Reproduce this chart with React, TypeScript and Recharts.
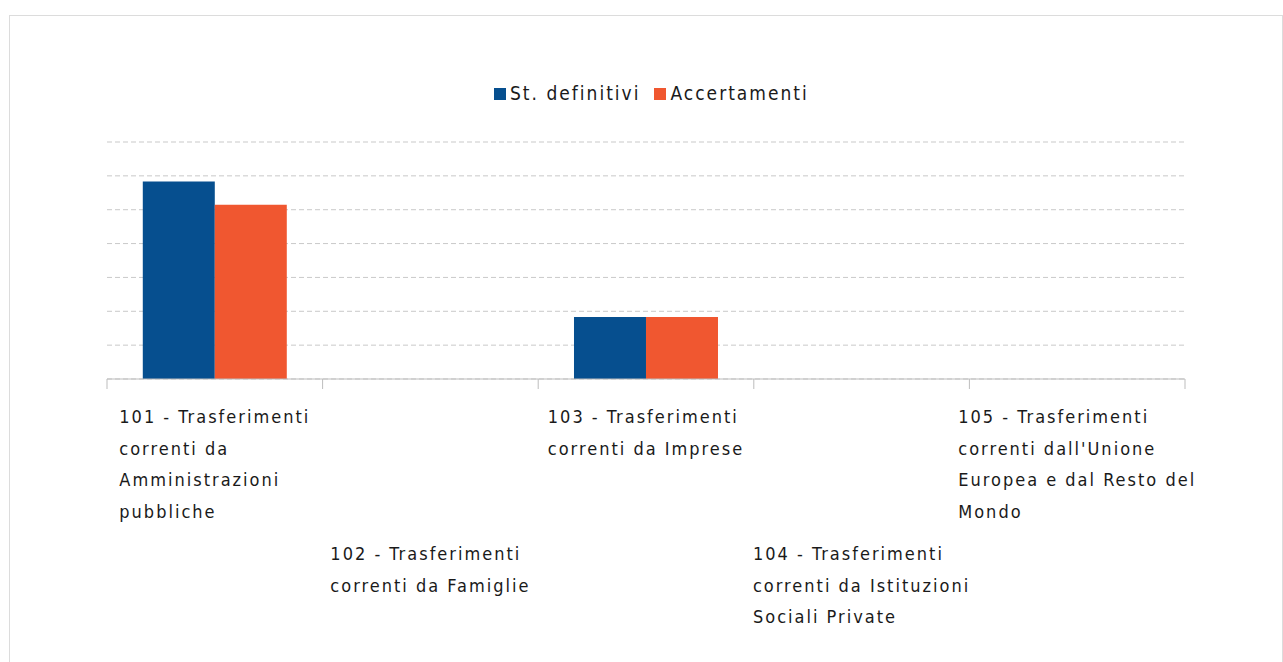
import React from 'react';
import { BarChart, Bar, XAxis, YAxis, CartesianGrid } from 'recharts';

const categories = [
  '101 - Trasferimenti correnti da Amministrazioni pubbliche',
  '102 - Trasferimenti correnti da Famiglie',
  '103 - Trasferimenti correnti da Imprese',
  '104 - Trasferimenti correnti da Istituzioni Sociali Private',
  "105 - Trasferimenti correnti dall'Unione Europea e dal Resto del Mondo",
];
const labelLines = [
  ['101 - Trasferimenti', 'correnti da', 'Amministrazioni', 'pubbliche'],
  ['102 - Trasferimenti', 'correnti da Famiglie'],
  ['103 - Trasferimenti', 'correnti da Imprese'],
  ['104 - Trasferimenti', 'correnti da Istituzioni', 'Sociali Private'],
  ['105 - Trasferimenti', "correnti dall'Unione", 'Europea e dal Resto del', 'Mondo'],
];
const stDefinitivi = [5.83, 0, 1.83, 0, 0];
const accertamenti = [5.15, 0, 1.83, 0, 0];
const yTicks = [0, 1, 2, 3, 4, 5, 6, 7];

const data = categories.map((c, i) => ({
  name: c,
  idx: i,
  st: stDefinitivi[i],
  acc: accertamenti[i],
}));

const W = 1283;
const H = 662;
const M = { top: 142, right: 98, left: 107, bottom: 253 };
const XH = 30;
const BAND = (W - M.left - M.right) / categories.length;
const FONT = '"DejaVu Sans Condensed", "DejaVu Sans", sans-serif';
const TICK_FS = 18;
const TICK_LS = 2.0;
const LINE_H = 31.7;

let ctx: CanvasRenderingContext2D | null = null;
function measure(t: string, fs: number, ls: number) {
  if (!ctx) {
    const c = document.createElement('canvas');
    ctx = c.getContext('2d');
  }
  if (!ctx) return t.length * fs * 0.55;
  ctx.font = `${fs}px ${FONT}`;
  return ctx.measureText(t).width + ls * t.length;
}

const CategoryTick = (props: any) => {
  const { x, y, payload } = props;
  const i = payload.index as number;
  const lines = labelLines[i];
  const w = Math.max(...lines.map((l) => measure(l, TICK_FS, TICK_LS)));
  const lower = i % 2 === 1;
  const base = y + (lower ? 181 : 44);
  const left = x - BAND / 2;
  const right = x + BAND / 2;
  return (
    <g>
      <line x1={left} x2={left} y1={y} y2={y + 10} stroke="#bdbdbd" strokeWidth={1} />
      {i === categories.length - 1 && (
        <line x1={right} x2={right} y1={y} y2={y + 10} stroke="#bdbdbd" strokeWidth={1} />
      )}
      <text
        x={x - w / 2}
        y={base}
        fill="#1a1a1a"
        fontFamily={FONT}
        fontSize={TICK_FS}
        letterSpacing={TICK_LS}
        textAnchor="start"
      >
        {lines.map((l, k) => (
          <tspan key={k} x={x - w / 2} y={base + k * LINE_H}>
            {l}
          </tspan>
        ))}
      </text>
    </g>
  );
};

const legendItems = [
  { label: 'St. definitivi', color: '#064f8f' },
  { label: 'Accertamenti', color: '#f05730' },
];

export default function App() {
  return (
    <div
      style={{
        position: 'fixed',
        left: 0,
        top: 0,
        width: W,
        height: H,
        overflow: 'hidden',
        background: '#fff',
      }}
    >
      <div
        style={{
          position: 'absolute',
          left: 9,
          top: 15,
          width: W - 9,
          height: H,
          boxSizing: 'border-box',
          border: '1px solid #dcdcdc',
        }}
      />
      <div
        style={{
          position: 'absolute',
          left: 494,
          top: 82,
          display: 'flex',
          alignItems: 'center',
          fontFamily: FONT,
          fontSize: 19,
          letterSpacing: 2.0,
          color: '#1a1a1a',
          whiteSpace: 'nowrap',
        }}
      >
        {legendItems.map((it, k) => (
          <div key={k} style={{ display: 'flex', alignItems: 'center', marginRight: 14 }}>
            <span style={{ width: 12, height: 12, background: it.color, display: 'inline-block', marginRight: 4, marginTop: 2 }} />
            <span>{it.label}</span>
          </div>
        ))}
      </div>
      <div style={{ position: 'absolute', left: 0, top: 0 }}>
        <BarChart
          width={W}
          height={H}
          data={data}
          margin={M}
          barCategoryGap="16.6%"
          barGap={0}
        >
          <CartesianGrid vertical={false} stroke="#c9c9c9" strokeDasharray="5 3" />
          <YAxis hide domain={[0, 7]} ticks={yTicks} />
          <XAxis
            dataKey="name"
            height={XH}
            interval={0}
            axisLine={{ stroke: '#bdbdbd' }}
            tickLine={false}
            tickSize={0}
            tickMargin={0}
            tick={<CategoryTick />}
          />
          <Bar dataKey="st" name="St. definitivi" fill="#064f8f" isAnimationActive={false} />
          <Bar dataKey="acc" name="Accertamenti" fill="#f05730" isAnimationActive={false} />
        </BarChart>
      </div>
    </div>
  );
}
